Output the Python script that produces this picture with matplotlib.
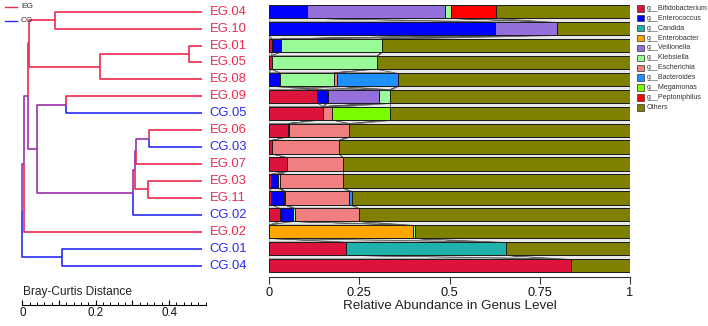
import matplotlib
matplotlib.use("Agg")
import matplotlib.pyplot as plt
from matplotlib.ticker import FixedLocator, FixedFormatter
import numpy as np

plt.rcParams['font.family'] = ['Liberation Sans', 'DejaVu Sans']

# ---------------- data ----------------
samples = ["EG.04", "EG.10", "EG.01", "EG.05", "EG.08", "EG.09", "CG.05", "EG.06",
           "CG.03", "EG.07", "EG.03", "EG.11", "CG.02", "EG.02", "CG.01", "CG.04"]
groups = [s[:2] for s in samples]

taxa = ["g__Bifidobacterium", "g__Enterococcus", "g__Candida", "g__Enterobacter",
        "g__Veillonella", "g__Klebsiella", "g__Escherichia", "g__Bacteroides",
        "g__Megamonas", "g__Peptoniphilus", "Others"]
taxa_colors = ["#DC143C", "#0000FF", "#20B2AA", "#FFA500", "#9370DB", "#98FB98",
               "#F08080", "#1E90FF", "#7CFC00", "#FF0000", "#808000"]

bifidobacterium = [0, 0, 0.009, 0.007, 0, 0.134, 0.150, 0.052, 0.008, 0.049, 0.005, 0.005, 0.030, 0, 0.212, 0.836]
enterococcus    = [0.106, 0.626, 0.024, 0, 0.030, 0.026, 0, 0.003, 0, 0, 0.019, 0.037, 0.037, 0, 0, 0]
candida         = [0, 0, 0, 0, 0, 0, 0, 0, 0, 0, 0, 0, 0, 0, 0.444, 0]
enterobacter    = [0, 0, 0, 0, 0, 0.004, 0, 0, 0, 0, 0, 0, 0, 0.398, 0, 0]
veillonella     = [0.382, 0.173, 0, 0, 0, 0.142, 0, 0, 0, 0, 0, 0, 0, 0, 0, 0]
klebsiella      = [0.015, 0, 0.279, 0.293, 0.150, 0.029, 0, 0, 0, 0, 0.006, 0.003, 0.005, 0.007, 0, 0]
escherichia     = [0, 0, 0, 0, 0.008, 0, 0.024, 0.167, 0.186, 0.155, 0.174, 0.177, 0.178, 0, 0, 0]
bacteroides     = [0, 0, 0, 0, 0.170, 0, 0, 0, 0, 0, 0, 0.009, 0, 0, 0, 0]
megamonas       = [0, 0, 0, 0, 0, 0, 0.161, 0, 0, 0, 0, 0, 0, 0, 0, 0]
peptoniphilus   = [0.125, 0, 0, 0, 0, 0, 0, 0, 0, 0, 0, 0, 0, 0, 0, 0]

known = np.array([bifidobacterium, enterococcus, candida, enterobacter, veillonella,
                  klebsiella, escherichia, bacteroides, megamonas, peptoniphilus])
others = 1 - known.sum(axis=0)
abund = np.vstack([known, others])          # taxa x samples

# dendrogram merges (scipy-like: leaves 0..15, new nodes 16..)
merge_a   = [0, 2, 17, 16, 5, 7, 21, 10, 22, 24, 20, 19, 27, 14, 28]
merge_b   = [1, 3, 4, 18, 6, 8, 9, 11, 23, 12, 25, 26, 13, 15, 29]
merge_pos = [0.088, 0.453, 0.213, 0.018, 0.118, 0.344, 0.311, 0.342, 0.306, 0.302,
             0.039, 0.015, 0.005, 0.109, 0.0]
leaf_pos = 0.491

group_colors = {"EG": "#EC2B4E", "CG": "#2B2BF5", "mix": "#9A34A8"}

# ---------------- figure ----------------
W, H = 708, 326
fig = plt.figure(figsize=(W / 100, H / 100), dpi=100)

top_px, bot_px = 3.2, 274.1
ax_b = fig.add_axes([269 / W, 1 - bot_px / H, 361 / W, (bot_px - top_px) / H])
ax_d = fig.add_axes([22.3 / W, 1 - bot_px / H, (205.8 - 22.3) / W, (bot_px - top_px) / H])

n = len(samples)
ypos = np.arange(n)
bh = 0.786

# connectors between bars
cum = np.vstack([np.zeros(n), np.cumsum(abund, axis=0)])
for i in range(n - 1):
    for j in range(len(taxa)):
        l1, r1 = cum[j, i], cum[j + 1, i]
        l2, r2 = cum[j, i + 1], cum[j + 1, i + 1]
        ax_b.fill([l1, r1, r2, l2], [i + bh / 2, i + bh / 2, i + 1 - bh / 2, i + 1 - bh / 2],
                  facecolor="#e8e8e8", edgecolor="#555555", lw=0.5, zorder=1)

left = np.zeros(n)
for j in range(len(taxa)):
    ax_b.barh(ypos, abund[j], left=left, height=bh, color=taxa_colors[j],
              edgecolor="#1a1a1a", lw=0.7, zorder=2)
    left += abund[j]

ax_b.set_xlim(0, 1)
ax_b.set_ylim(n - 0.5, -0.5)
for s in ["top", "right", "left"]:
    ax_b.spines[s].set_visible(False)
ax_b.spines["bottom"].set_position(("outward", 1.9))
ax_b.spines["bottom"].set_bounds(0, 1)
ax_b.spines["bottom"].set_color("#333333")
ax_b.set_yticks([])
ax_b.set_xticks([0, 0.25, 0.5, 0.75, 1])
ax_b.set_xticklabels(["0", "0.25", "0.5", "0.75", "1"])
ax_b.tick_params(axis="x", direction="out", length=4.75, width=0.8, pad=2.5,
                 labelsize=9.2, colors="#333333", labelcolor="#111111")
ax_b.patch.set_alpha(0)
fig.text(449.5 / W, 1 - 306 / H, "Relative Abundance in Genus Level", ha="center",
         va="center", fontsize=9.7, color="#222222")

# ---------------- dendrogram ----------------
node_y = {i: float(i) for i in range(n)}
node_x = {i: leaf_pos for i in range(n)}
node_g = {i: groups[i] for i in range(n)}
for k, (a, b, p) in enumerate(zip(merge_a, merge_b, merge_pos)):
    nid = n + k
    yc = (node_y[a] + node_y[b]) / 2
    for c in (a, b):
        col = group_colors[node_g[c]]
        ax_d.plot([p, p, node_x[c]], [yc, node_y[c], node_y[c]], color=col, lw=1.2,
                  solid_joinstyle="round", solid_capstyle="butt", clip_on=False)
    node_y[nid] = yc
    node_x[nid] = p
    node_g[nid] = node_g[a] if node_g[a] == node_g[b] else "mix"

for i, s in enumerate(samples):
    ax_d.text(leaf_pos + 0.02, i, s, color=group_colors[groups[i]], fontsize=9.4,
              va="center", ha="left", clip_on=False)

ax_d.set_xlim(0, 0.5)
ax_d.set_ylim(n - 0.5, -0.5)
for s in ["top", "right", "left"]:
    ax_d.spines[s].set_visible(False)
ax_d.spines["bottom"].set_position(("outward", 22.25))
ax_d.spines["bottom"].set_bounds(0, 0.5)
ax_d.spines["bottom"].set_linewidth(0.8)
ax_d.set_yticks([])
ax_d.xaxis.set_major_locator(FixedLocator([0, 0.1, 0.2, 0.3, 0.4]))
ax_d.xaxis.set_major_formatter(FixedFormatter(["0", "", "0.2", "", "0.4"]))
minor = [round(0.02 * k, 2) for k in range(26) if k % 5 != 0] + [0.5]
ax_d.xaxis.set_minor_locator(FixedLocator(minor))
ax_d.tick_params(axis="x", which="major", direction="in", length=3.6, width=0.8,
                 pad=1.5, labelsize=8.4, labelcolor="#111111")
ax_d.tick_params(axis="x", which="minor", direction="in", length=2.0, width=0.7)
ax_d.patch.set_alpha(0)
fig.text(23.0 / W, 1 - 291.7 / H, "Bray-Curtis Distance", ha="left", va="center",
         fontsize=8.6, color="#222222")

# ---------------- legends (overlay) ----------------
ax_o = fig.add_axes([0, 0, 1, 1], zorder=10)
ax_o.set_xlim(0, W)
ax_o.set_ylim(H, 0)
ax_o.axis("off")

for k, g in enumerate(["EG", "CG"]):
    yy = 6.7 + 14 * k
    ax_o.plot([5, 16.5], [yy, yy], color=group_colors[g], lw=1.0)
    ax_o.text(21, yy, g, fontsize=6.0, va="center", ha="left", color="#333333")

for k, (t, c) in enumerate(zip(taxa, taxa_colors)):
    yy = 8.3 + 9.9 * k
    ax_o.add_patch(plt.Rectangle((637.3, yy - 3.2), 6.2, 6.4, facecolor=c,
                                 edgecolor="#333333", lw=0.5))
    ax_o.text(646.5, yy, t, fontsize=5.1, va="center", ha="left", color="#333333")

fig.savefig("out.png", dpi=100)
